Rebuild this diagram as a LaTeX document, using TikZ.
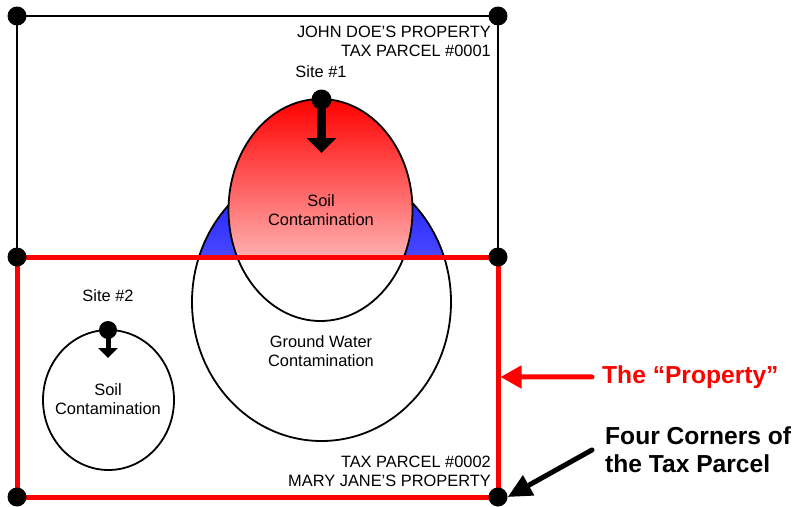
\documentclass[tikz,border=0pt]{standalone}
\usepackage{fontspec}
\setmainfont{Liberation Sans}
\usetikzlibrary{arrows.meta,calc}
\definecolor{gwtop}{RGB}{18,18,255}
\definecolor{gwbot}{RGB}{181,181,255}
\definecolor{sctop}{RGB}{255,0,0}
\definecolor{scbot}{RGB}{255,246,246}
\tikzset{
  dot/.style={circle,fill=black,inner sep=0pt,minimum size=#1},
  dot/.default=19pt,
  smalltxt/.style={font=\fontsize{16.4}{19.5}\selectfont,inner sep=0pt,align=center},
  bigtxt/.style={font=\fontsize{24.6}{28}\selectfont\bfseries,inner sep=0pt},
  outline/.style={draw=black,line width=1.8pt},
  parcelline/.style={line width=2pt},
  propline/.style={red,line width=5pt},
}
\begin{document}
\begin{tikzpicture}[x=1pt,y=-1pt]
\useasboundingbox (0,0) rectangle (792,506);
\coordinate (p1) at (17,16);
\coordinate (p2) at (498,16);
\coordinate (p3) at (17,257);
\coordinate (p4) at (498,257);
\coordinate (p5) at (17,497);
\coordinate (p6) at (498,497);
% ground water plume
\begin{scope}
  \clip (p1) rectangle (p4);
  \shade[top color=gwtop,bottom color=gwbot] (321.5,302) ellipse [x radius=129.5,y radius=139];
\end{scope}
\draw[outline] (321.5,302) ellipse [x radius=129.5,y radius=139];
% soil contamination site 1
\begin{scope}
  \clip (p1) rectangle (p4);
  \shade[top color=sctop,bottom color=scbot] (320.5,210) ellipse [x radius=92,y radius=111];
\end{scope}
\draw[outline] (320.5,210) ellipse [x radius=92,y radius=111];
% soil contamination site 2
\draw[outline] (108.5,400) ellipse [x radius=65.5,y radius=70];
% parcel boundaries
\draw[parcelline] (p3) -- (p1) -- (p2) -- (p4);
\draw[propline] (p3) rectangle (p6);
\foreach \i in {1,...,6} \node[dot] (c\i) at (p\i) {};
% sites
\node[dot=20pt] (s1) at (321.5,99.5) {};
\coordinate (s1tip) at (321.5,153);
\draw[line width=9pt,-{Triangle[length=15pt,width=29pt]}] (s1.center) -- (s1tip);
\node[dot=18pt] (s2) at (108,330) {};
\coordinate (s2tip) at (108,358);
\draw[line width=5pt,-{Triangle[length=10pt,width=19pt]}] (s2.center) -- (s2tip);
% texts
\node[smalltxt,anchor=north east,align=right] (jd) at (491,25.5) {JOHN DOE’S PROPERTY\\TAX PARCEL \#0001};
\node[smalltxt,anchor=south east,align=right] (mj) at (491,487) {TAX PARCEL \#0002\\MARY JANE’S PROPERTY};
\node[smalltxt,anchor=base] (l1) at (321,77.3) {Site \#1};
\node[smalltxt,anchor=base] (l2) at (108,301.7) {Site \#2};
\node[smalltxt,anchor=north] (t1) at (321,194) {Soil\\Contamination};
\node[smalltxt,anchor=north] (t2) at (321,335) {Ground Water\\Contamination};
\node[smalltxt,anchor=north] (t3) at (108,383.3) {Soil\\Contamination};
\node[bigtxt,text=red,anchor=base west] (prop) at (602,383.3) {The “Property”};
\node[bigtxt,anchor=north west,align=left] (fc) at (605,426.7) {Four Corners of\\the Tax Parcel};
% annotation arrows
\coordinate (edge) at ($(p4)!0.5!(p6)+(2.5,0)$);
\draw[red,line width=5pt,line cap=round,-{Triangle[length=21pt,width=22pt]}] ([xshift=-10pt]prop.west) -- (edge);
\draw[black,line width=5pt,line cap=round,-{Triangle[length=24pt,width=22pt]}] ([xshift=-13pt]fc.west) -- (c6.east);
\end{tikzpicture}
\end{document}
